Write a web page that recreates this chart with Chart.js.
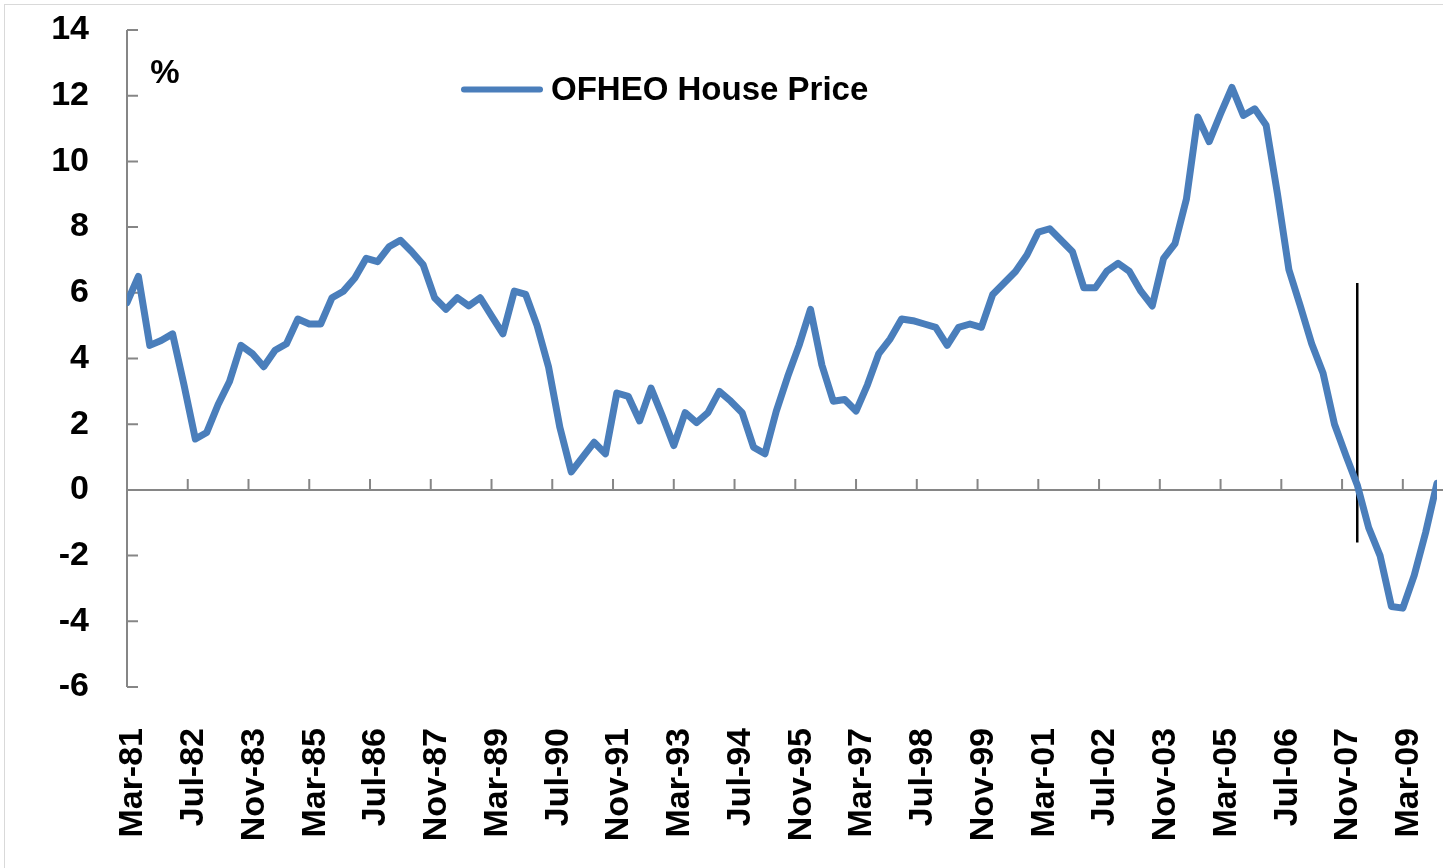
<!DOCTYPE html>
<html><head><meta charset="utf-8">
<script src="https://cdn.jsdelivr.net/npm/chart.js@4/dist/chart.umd.min.js"></script>
<style>html,body{margin:0;padding:0;background:#fff;overflow:hidden}canvas{display:block}</style>
</head><body>
<canvas id="c" width="1443" height="868"></canvas>
<script>
// ---- data (quarterly, first observation Mar-81, last Dec-09) ----
const seriesName = 'OFHEO House Price';
const firstPeriod = 'Mar-81';
const lastPeriod = 'Dec-09';
const housePrice = [
  5.7, 6.5, 4.4, 4.55, 4.75, 3.2, 1.55, 1.75, 2.6, 3.3,
  4.4, 4.15, 3.75, 4.25, 4.45, 5.2, 5.05, 5.05, 5.85, 6.05,
  6.45, 7.05, 6.95, 7.4, 7.6, 7.25, 6.85, 5.85, 5.5, 5.85,
  5.6, 5.85, 5.3, 4.75, 6.05, 5.95, 5.0, 3.75, 1.9, 0.55,
  1.0, 1.45, 1.1, 2.95, 2.85, 2.1, 3.1, 2.25, 1.35, 2.35,
  2.05, 2.35, 3.0, 2.7, 2.35, 1.3, 1.1, 2.4, 3.45, 4.4,
  5.5, 3.8, 2.7, 2.75, 2.4, 3.2, 4.15, 4.6, 5.2, 5.15,
  5.05, 4.95, 4.4, 4.95, 5.05, 4.95, 5.95, 6.3, 6.65, 7.15,
  7.85, 7.95, 7.6, 7.25, 6.15, 6.15, 6.65, 6.9, 6.65, 6.05,
  5.6, 7.05, 7.5, 8.85, 11.35, 10.6, 11.45, 12.25, 11.4, 11.6,
  11.1, 9.0, 6.7, 5.6, 4.45, 3.55, 2.0, 1.05, 0.15, -1.15,
  -2.0, -3.55, -3.6, -2.6, -1.3, 0.2
];
const tickLabels = ['Mar-81','Jul-82','Nov-83','Mar-85','Jul-86','Nov-87','Mar-89','Jul-90',
  'Nov-91','Mar-93','Jul-94','Nov-95','Mar-97','Jul-98','Nov-99','Mar-01','Jul-02','Nov-03',
  'Mar-05','Jul-06','Nov-07','Mar-09'];
const yTickValues = [14, 12, 10, 8, 6, 4, 2, 0, -2, -4, -6];
const markerPeriod = ['Mar-08', 'Mar-08'];
const markerValues = [6.3, -1.6];
const unitLabel = '%';

// ---- helpers ----
const MONTHS = ['Jan','Feb','Mar','Apr','May','Jun','Jul','Aug','Sep','Oct','Nov','Dec'];
function monthIndex(label) {
  const [m, y] = label.split('-');
  const yy = parseInt(y, 10);
  const year = yy < 50 ? 2000 + yy : 1900 + yy;
  return year * 12 + MONTHS.indexOf(m);
}
const base = monthIndex(firstPeriod);
const offset = l => monthIndex(l) - base;
const housePoints = housePrice.map((v, i) => ({ x: i * 3, y: v }));
const markerPoints = markerValues.map((v, i) => ({ x: offset(markerPeriod[i]), y: v }));
const tickMonths = tickLabels.map(offset);

const FONT = '"Liberation Sans", Arial, sans-serif';
const AXIS = '#868686';
const BLUE = '#4a7ebb';

const decor = {
  id: 'decor',
  beforeDatasetsDraw(chart) {
    const { ctx, chartArea: a, scales: { x, y } } = chart;
    ctx.save();
    ctx.strokeStyle = AXIS;
    ctx.lineWidth = 2;
    const y0 = y.getPixelForValue(0);
    ctx.beginPath();
    ctx.moveTo(a.left, y0); ctx.lineTo(a.right + 6, y0);
    ctx.moveTo(a.left, a.top); ctx.lineTo(a.left, a.bottom);
    tickMonths.forEach(m => {
      const px = x.getPixelForValue(m);
      ctx.moveTo(px, y0); ctx.lineTo(px, y0 - 11);
    });
    yTickValues.forEach(v => {
      const py = y.getPixelForValue(v);
      ctx.moveTo(a.left, py); ctx.lineTo(a.left + 11, py);
    });
    ctx.stroke();
    ctx.restore();
  },
  afterDraw(chart) {
    const { ctx } = chart;
    ctx.save();
    ctx.strokeStyle = '#d9d9d9';
    ctx.lineWidth = 1;
    ctx.strokeRect(4.5, 4.5, 2000, 2000);
    ctx.fillStyle = '#000';
    ctx.font = 'bold 33px ' + FONT;
    ctx.textAlign = 'center';
    ctx.textBaseline = 'middle';
    ctx.fillText(unitLabel, 165, 74);
    ctx.strokeStyle = BLUE;
    ctx.lineWidth = 6;
    ctx.lineCap = 'round';
    ctx.beginPath();
    ctx.moveTo(464, 89.5); ctx.lineTo(540, 89.5);
    ctx.stroke();
    ctx.font = 'bold 33px ' + FONT;
    ctx.textAlign = 'left';
    ctx.fillText(chart.data.datasets[0].label, 551, 91);
    ctx.restore();
  }
};

new Chart(document.getElementById('c'), {
  type: 'line',
  data: {
    datasets: [
      { label: seriesName, data: housePoints, borderColor: BLUE, borderWidth: 7,
        pointRadius: 0, tension: 0, borderJoinStyle: 'round', borderCapStyle: 'round', fill: false },
      { label: 'marker', data: markerPoints, borderColor: '#000', borderWidth: 2.5,
        pointRadius: 0, fill: false }
    ]
  },
  options: {
    responsive: false,
    animation: false,
    events: [],
    layout: { padding: { top: 30, right: 6, left: 0, bottom: 0 } },
    plugins: { legend: { display: false }, tooltip: { enabled: false } },
    scales: {
      x: {
        type: 'linear',
        min: 0, max: offset(lastPeriod),
        afterBuildTicks: s => { s.ticks = tickMonths.map(v => ({ value: v })); },
        afterFit: s => { s.height = 181; s.paddingLeft = 0; s.paddingRight = 0; },
        grid: { display: false, drawTicks: false },
        border: { display: false },
        ticks: {
          autoSkip: false, minRotation: 90, maxRotation: 90, padding: 41, labelOffset: 6,
          color: '#000', font: { family: FONT, size: 34, weight: 'bold' },
          callback: v => tickLabels[tickMonths.indexOf(v)] ?? ''
        }
      },
      y: {
        min: -6, max: 14,
        afterBuildTicks: s => { s.ticks = yTickValues.map(v => ({ value: v })); },
        afterFit: s => { s.width = 127; s.paddingTop = 0; s.paddingBottom = 0; },
        grid: { display: false, drawTicks: false },
        border: { display: false },
        ticks: { padding: 38, color: '#000', font: { family: FONT, size: 34, weight: 'bold' } }
      }
    }
  },
  plugins: [decor]
});
</script>
</body></html>
